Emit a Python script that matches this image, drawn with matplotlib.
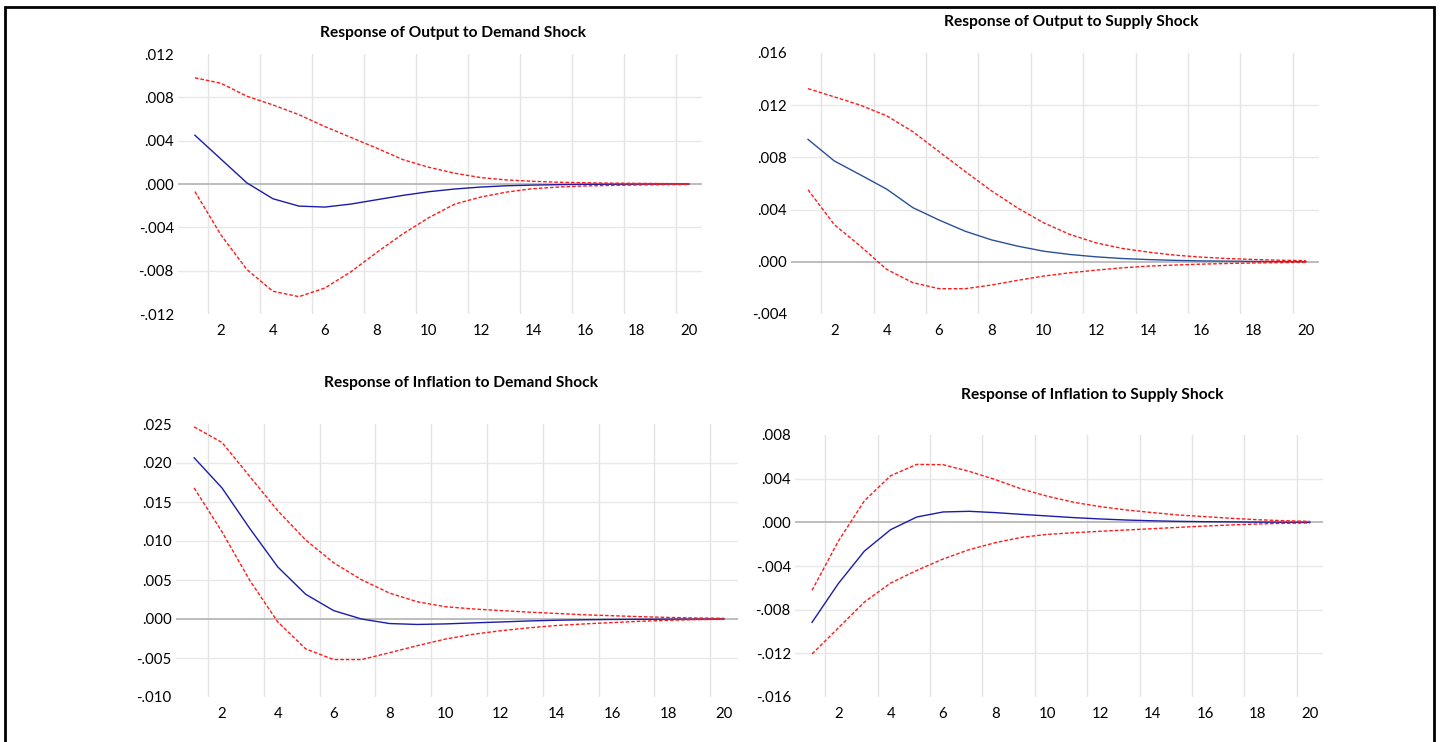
import matplotlib.pyplot as plt
from matplotlib.patches import Rectangle
from matplotlib.ticker import FuncFormatter

plt.rcParams['font.family'] = ['Lato', 'DejaVu Sans']

periods = list(range(1, 21))

# Response of Output to Demand Shock
out_dem = [0.0045, 0.0023, 0.0001, -0.00136, -0.00204, -0.00213, -0.00185, -0.00145, -0.00105, -0.00071,
           -0.00046, -0.00028, -0.00016, -0.0001, -0.00006, -0.00003, -0.00002, -0.00001, 0.0, 0.0]
out_dem_hi = [0.0098, 0.0093, 0.0081, 0.0073, 0.0064, 0.0053, 0.0043, 0.0033, 0.00225, 0.00154,
              0.00099, 0.00059, 0.00037, 0.00025, 0.00016, 0.00012, 0.00008, 0.00006, 0.00004, 0.00003]
out_dem_lo = [-0.0007, -0.0047, -0.0079, -0.0099, -0.0104, -0.0096, -0.0081, -0.0063, -0.0046, -0.0031,
              -0.00185, -0.0012, -0.00074, -0.00043, -0.00028, -0.00018, -0.00013, -0.00009, -0.00006, -0.00004]

# Response of Output to Supply Shock
out_sup = [0.00938, 0.00773, 0.00666, 0.00557, 0.00415, 0.0032, 0.00234, 0.00168, 0.0012, 0.00081,
           0.00056, 0.00038, 0.00025, 0.00017, 0.00011, 0.00007, 0.00005, 0.00003, 0.00002, 0.00001]
out_sup_hi = [0.01327, 0.01264, 0.0120, 0.01119, 0.00997, 0.00844, 0.00692, 0.00544, 0.00412, 0.00298,
              0.00209, 0.00145, 0.00102, 0.00074, 0.00051, 0.00036, 0.00025, 0.00018, 0.00012, 0.00009]
out_sup_lo = [0.00552, 0.00285, 0.0012, -0.00058, -0.0016, -0.00206, -0.00206, -0.00178, -0.00142, -0.00109,
              -0.00084, -0.00064, -0.00046, -0.00033, -0.00025, -0.00018, -0.00013, -0.00009, -0.00006, -0.00004]

# Response of Inflation to Demand Shock
inf_dem = [0.02067, 0.0168, 0.01158, 0.00667, 0.00317, 0.00108, 0.0, -0.00058, -0.0007, -0.00063,
           -0.0005, -0.00038, -0.00025, -0.00016, -0.0001, -0.00006, -0.00004, -0.00002, -0.00001, 0.0]
inf_dem_hi = [0.02463, 0.02263, 0.01825, 0.01388, 0.01013, 0.00721, 0.00504, 0.00333, 0.00221, 0.00158,
              0.00129, 0.00108, 0.00088, 0.00071, 0.00054, 0.00042, 0.0003, 0.0002, 0.00013, 0.00009]
inf_dem_lo = [0.0168, 0.01117, 0.00492, -0.00038, -0.00383, -0.0052, -0.0052, -0.00433, -0.00342, -0.00258,
              -0.00196, -0.0015, -0.00113, -0.00083, -0.00063, -0.00046, -0.00029, -0.00017, -0.00008, -0.00004]

# Response of Inflation to Supply Shock
inf_sup = [-0.00916, -0.00562, -0.00263, -0.00067, 0.00049, 0.00095, 0.00101, 0.00089, 0.00073, 0.00058,
           0.00043, 0.00031, 0.00021, 0.00014, 0.00009, 0.00006, 0.00004, 0.00002, 0.00001, 0.0]
inf_sup_hi = [-0.00623, -0.00174, 0.00198, 0.00427, 0.00531, 0.00528, 0.00467, 0.00391, 0.00305, 0.00238,
              0.00183, 0.00144, 0.00113, 0.00089, 0.00067, 0.00052, 0.00037, 0.00024, 0.00015, 0.00009]
inf_sup_lo = [-0.01206, -0.00968, -0.0073, -0.00556, -0.0044, -0.00336, -0.0025, -0.00186, -0.00137, -0.0011,
              -0.00095, -0.00082, -0.0007, -0.00058, -0.00046, -0.00034, -0.00024, -0.00015, -0.00009, -0.00006]

titles = ['Response of Output to Demand Shock', 'Response of Output to Supply Shock',
          'Response of Inflation to Demand Shock', 'Response of Inflation to Supply Shock']
y_ticks = [[-0.012, -0.008, -0.004, 0.0, 0.004, 0.008, 0.012],
           [-0.004, 0.0, 0.004, 0.008, 0.012, 0.016],
           [-0.010, -0.005, 0.0, 0.005, 0.010, 0.015, 0.020, 0.025],
           [-0.016, -0.012, -0.008, -0.004, 0.0, 0.004, 0.008]]
x_ticks = list(range(2, 21, 2))

panels = [(out_dem, out_dem_hi, out_dem_lo), (out_sup, out_sup_hi, out_sup_lo),
          (inf_dem, inf_dem_hi, inf_dem_lo), (inf_sup, inf_sup_hi, inf_sup_lo)]

# axes boxes in pixels: left, right, top, bottom ; title position
W, H = 1442, 742
boxes = [(178, 702, 54, 314), (791, 1319, 53, 314), (176, 738, 424, 697), (795, 1323, 435, 697)]
title_pos = [(453, 33), (1071, 22), (461, 383), (1092, 395)]
blues = ['#1c1ca8', '#2b4f96', '#1c1ca8', '#1c1ca8']


def fmt(v, pos):
    s = f'{v:.3f}'
    return s.replace('0.', '.', 1)


fig = plt.figure(figsize=(W / 100, H / 100), dpi=100)

for i, (resp, hi, lo) in enumerate(panels):
    l, r, t, b = boxes[i]
    ax = fig.add_axes([l / W, 1 - b / H, (r - l) / W, (b - t) / H])
    ticks = y_ticks[i]
    ax.set_xlim(0.35, 20.5)
    ax.set_ylim(ticks[0], ticks[-1])

    # grid
    for gx in [k + 0.5 for k in range(1, 20, 2)]:
        ax.axvline(gx, color='#e4e4e4', lw=1.0, zorder=0)
    for gy in ticks[1:-1]:
        if gy == 0:
            ax.axhline(0, color='#b8b8b8', lw=1.3, zorder=1)
        else:
            ax.axhline(gy, color='#e8e8e8', lw=1.0, zorder=0)

    ax.plot(periods, hi, color='#ff1a1a', lw=1.0, dashes=(2.6, 1.4), zorder=3)
    ax.plot(periods, lo, color='#ff1a1a', lw=1.0, dashes=(2.6, 1.4), zorder=3)
    ax.plot(periods, resp, color=blues[i], lw=1.0, zorder=2)

    ax.set_xticks(x_ticks)
    ax.set_yticks(ticks)
    ax.yaxis.set_major_formatter(FuncFormatter(fmt))
    ax.tick_params(length=0, labelsize=10.8, colors='black')
    ax.tick_params(axis='x', pad=7)
    ax.tick_params(axis='y', pad=3)
    for s in ax.spines.values():
        s.set_visible(False)

    tx, ty = title_pos[i]
    fig.text(tx / W, 1 - ty / H, titles[i], ha='center', va='center', fontsize=11.2, fontweight='bold')

# outer frame
frame = Rectangle((5 / W, -0.02), (1434 - 5) / W, 1 - 7 / H + 0.02, transform=fig.transFigure,
                  fill=False, edgecolor='black', lw=2.0)
fig.patches.append(frame)

fig.savefig('out.png', dpi=100)
